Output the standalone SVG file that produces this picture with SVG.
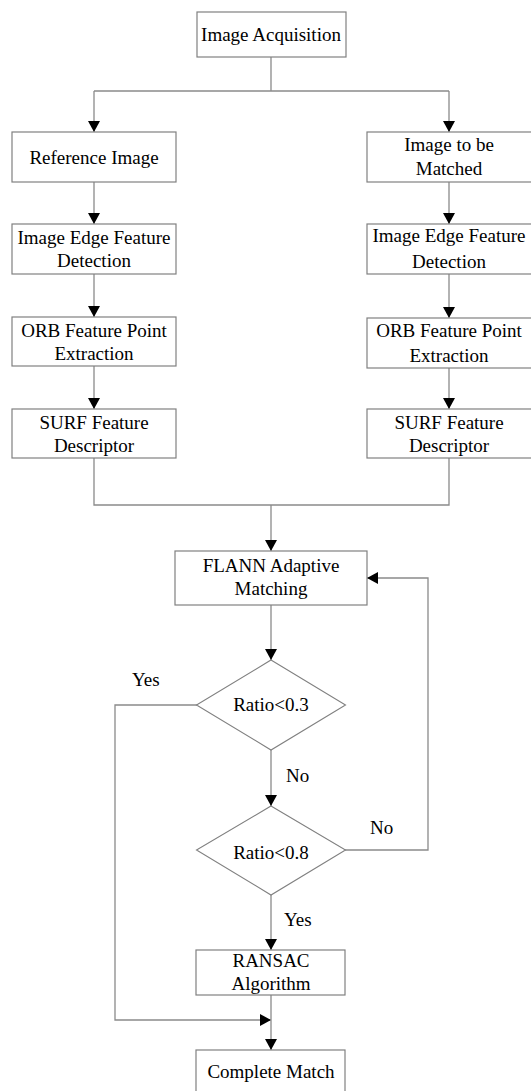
<svg xmlns="http://www.w3.org/2000/svg" width="531" height="1091" viewBox="0 0 531 1091">
  <defs>
    <marker id="arrow" markerWidth="11" markerHeight="12" refX="11" refY="6" orient="auto" markerUnits="userSpaceOnUse">
      <path d="M0,0 L11,6 L0,12 Z" fill="#000"/>
    </marker>
    <style>
      .box { fill: #fff; stroke: #808080; stroke-width: 1.2; }
      .dec { fill: #fff; stroke: #808080; stroke-width: 1.1; }
      .line { fill: none; stroke: #8a8a8a; stroke-width: 1.3; }
      .arr { marker-end: url(#arrow); }
      text { font-family: Liberation Serif, DejaVu Serif, serif; font-size: 19px; fill: #000; text-anchor: middle; }
      .lbl { text-anchor: start; }
    </style>
  </defs>
  <rect width="531" height="1091" fill="#fff"/>

  <g id="connectors">
    <path class="line" d="M271,57 V91 H94 M271,91 H449"/>
    <path class="line arr" d="M94,91 V132"/>
    <path class="line arr" d="M449,91 V132"/>
    <path class="line arr" d="M94,182 V224"/>
    <path class="line arr" d="M449,182 V224"/>
    <path class="line arr" d="M94,274 V317"/>
    <path class="line arr" d="M449,274 V318"/>
    <path class="line arr" d="M94,366 V409"/>
    <path class="line arr" d="M449,368 V409"/>
    <path class="line" d="M94,458 V505 H449 V458"/>
    <path class="line arr" d="M271,505 V551"/>
    <path class="line arr" d="M271,605 V660"/>
    <path class="line arr" d="M271,750 V806"/>
    <path class="line arr" d="M345,850 H428 V578 H367"/>
    <path class="line arr" d="M271,895 V950"/>
    <path class="line arr" d="M197,705 H115 V1020 H271"/>
    <path class="line arr" d="M271,995 V1050"/>
  </g>

  <g id="acquisition">
    <rect class="box" x="197" y="12" width="149" height="45"/>
    <text x="271" y="41">Image Acquisition</text>
  </g>

  <g id="reference-image">
    <rect class="box" x="12" y="132" width="164" height="50"/>
    <text x="94" y="164">Reference Image</text>
  </g>
  <g id="image-to-match">
    <rect class="box" x="367" y="132" width="168" height="50"/>
    <text x="449" y="150.5">Image to be</text>
    <text x="449" y="175">Matched</text>
  </g>

  <g id="edge-left">
    <rect class="box" x="12" y="224" width="164" height="50"/>
    <text x="94" y="243.5">Image Edge Feature</text>
    <text x="94" y="267">Detection</text>
  </g>
  <g id="edge-right">
    <rect class="box" x="367" y="224" width="168" height="50"/>
    <text x="449" y="242">Image Edge Feature</text>
    <text x="449" y="268">Detection</text>
  </g>

  <g id="orb-left">
    <rect class="box" x="12" y="317" width="164" height="49"/>
    <text x="94" y="336.5">ORB Feature Point</text>
    <text x="94" y="360">Extraction</text>
  </g>
  <g id="orb-right">
    <rect class="box" x="367" y="318" width="168" height="50"/>
    <text x="449" y="337">ORB Feature Point</text>
    <text x="449" y="362">Extraction</text>
  </g>

  <g id="surf-left">
    <rect class="box" x="12" y="409" width="164" height="49"/>
    <text x="94" y="428.5">SURF Feature</text>
    <text x="94" y="452">Descriptor</text>
  </g>
  <g id="surf-right">
    <rect class="box" x="367" y="409" width="168" height="49"/>
    <text x="449" y="428.5">SURF Feature</text>
    <text x="449" y="452">Descriptor</text>
  </g>

  <g id="flann">
    <rect class="box" x="175" y="551" width="192" height="54"/>
    <text x="271" y="572">FLANN Adaptive</text>
    <text x="271" y="595">Matching</text>
  </g>

  <g id="ratio-03">
    <polygon class="dec" points="271,660 345.5,705 271,750 196.5,705"/>
    <text x="271" y="711">Ratio&lt;0.3</text>
  </g>

  <g id="ratio-08">
    <polygon class="dec" points="271,806 345.5,850 271,895 196.5,850"/>
    <text x="271" y="859">Ratio&lt;0.8</text>
  </g>

  <g id="ransac">
    <rect class="box" x="196" y="950" width="149" height="45"/>
    <text x="271" y="967">RANSAC</text>
    <text x="271" y="990">Algorithm</text>
  </g>

  <g id="complete-match">
    <rect class="box" x="196" y="1050" width="149" height="50"/>
    <text x="271" y="1078">Complete Match</text>
  </g>

  <g id="labels">
    <text class="lbl" x="132" y="686">Yes</text>
    <text class="lbl" x="286" y="782">No</text>
    <text class="lbl" x="370" y="834">No</text>
    <text class="lbl" x="284" y="926">Yes</text>
  </g>
</svg>
